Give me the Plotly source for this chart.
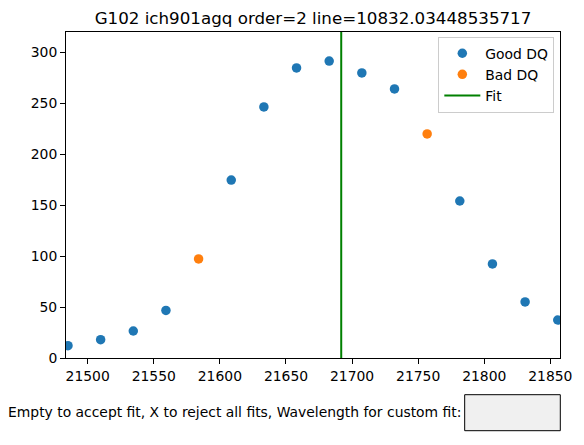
import plotly.graph_objects as go

# Data
wavelengths = [21485.1, 21509.8, 21534.5, 21559.2, 21583.9, 21608.6, 21633.3, 21658.0,
               21682.7, 21707.4, 21732.1, 21756.8, 21781.5, 21806.2, 21830.9, 21855.6]
flux = [12.1, 18.0, 26.5, 46.7, 97.2, 174.7, 246.4, 284.7,
        291.5, 279.8, 264.1, 219.9, 154.1, 92.3, 55.0, 37.3]
bad_dq = [False, False, False, False, True, False, False, False,
          False, False, False, True, False, False, False, False]
fit_wavelength = 21691.8
x_limits = [21483.6, 21857.3]
y_limits = [0, 320]
y_ticks = [0, 50, 100, 150, 200, 250, 300]
x_ticks = [21500, 21550, 21600, 21650, 21700, 21750, 21800, 21850]
title = "G102 ich901agq order=2 line=10832.03448535717"
prompt = "Empty to accept fit, X to reject all fits, Wavelength for custom fit:"

good_x = [w for w, b in zip(wavelengths, bad_dq) if not b]
good_y = [f for f, b in zip(flux, bad_dq) if not b]
bad_x = [w for w, b in zip(wavelengths, bad_dq) if b]
bad_y = [f for f, b in zip(flux, bad_dq) if b]

font = "DejaVu Sans, sans-serif"
FS = 13.9

# page has an 8px body margin: figure is placed at (8, 8)
W, H = 576, 437
PL, PR, PT, PB = 65.7 - 8, 561.7 - 8, 32.3 - 8, 358.3 - 8
pw, ph = PR - PL, PB - PT

def px(xp):
    return (xp - 8 - PL) / pw

def py(yp):
    return (PB - (yp - 8)) / ph

fig = go.Figure()
fig.add_trace(go.Scatter(x=good_x, y=good_y, mode="markers", name="Good DQ",
                         marker=dict(color="#1f77b4", size=9.5, line=dict(width=0))))
fig.add_trace(go.Scatter(x=bad_x, y=bad_y, mode="markers", name="Bad DQ",
                         marker=dict(color="#ff7f0e", size=9.5, line=dict(width=0))))
fig.add_trace(go.Scatter(x=[fit_wavelength, fit_wavelength], y=y_limits, mode="lines",
                         name="Fit", line=dict(color="green", width=2)))

axis_common = dict(showline=True, linecolor="black", linewidth=1, mirror=True,
                   ticks="outside", ticklen=5, tickwidth=1, tickcolor="black",
                   showgrid=False, zeroline=False,
                   tickfont=dict(family=font, size=FS, color="black"))

fig.update_layout(
    width=W, height=H,
    margin=dict(l=PL, r=W - PR, t=PT, b=H - PB, pad=0),
    paper_bgcolor="white", plot_bgcolor="white",
    font=dict(family=font, size=FS, color="black"),
    title=dict(text=title, x=0.5, xref="paper", xanchor="center",
               y=1 - 10 / H, yref="container", yanchor="middle",
               font=dict(family=font, size=16.7, color="black")),
    xaxis=dict(range=x_limits, tickvals=x_ticks, ticktext=[str(t) for t in x_ticks],
               **axis_common),
    yaxis=dict(range=y_limits, tickvals=y_ticks, **axis_common),
    legend=dict(x=px(556), y=py(37), xanchor="right", yanchor="top",
                bgcolor="rgba(255,255,255,0.8)", bordercolor="#cccccc", borderwidth=1,
                font=dict(family=font, size=FS, color="black"),
                itemwidth=36, tracegroupgap=0),
    showlegend=True,
)

# Text input prompt and box (below the axes)
fig.add_annotation(text=prompt, xref="paper", yref="paper",
                   x=px(464), y=py(412),
                   xanchor="right", yanchor="middle", showarrow=False,
                   font=dict(family=font, size=FS, color="black"))
fig.add_shape(type="rect", xref="paper", yref="paper",
              x0=px(466), x1=px(562),
              y0=py(431), y1=py(395),
              fillcolor="#f0f0f0", line=dict(color="black", width=1))

fig.write_html("out.html")
